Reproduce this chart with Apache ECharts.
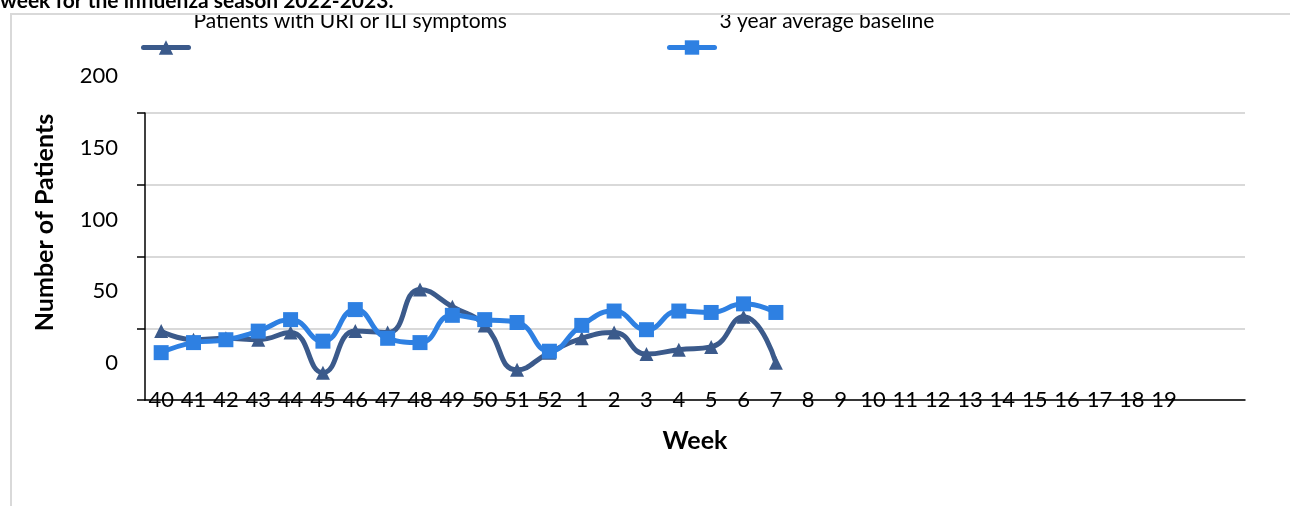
<!DOCTYPE html>
<html>
<head>
<meta charset="utf-8">
<script src="https://cdn.jsdelivr.net/npm/echarts@6/dist/echarts.min.js"></script>
<style>
  html, body { margin: 0; padding: 0; background: #fff; }
  #main_chart { width: 1290px; height: 506px; }
</style>
</head>
<body>
<div id="main_chart"></div>
<script>
// weeks of the season, two blank slots at the end like the original sheet
var weeks = ['40','41','42','43','44','45','46','47','48','49','50','51','52',
             '1','2','3','4','5','6','7','8','9','10','11','12','13','14','15',
             '16','17','18','19','',''];
var uriIli = [48, 42, 43, 42, 47, 19, 48, 47, 77, 65, 52, 21, 33,
              43, 47, 32, 35, 37, 58, 26];
var baseline = [33, 40, 42, 48, 56, 41, 63, 43, 40, 59, 56, 54, 34,
                52, 62, 49, 62, 61, 67, 61];
var yTicks = [0, 50, 100, 150, 200];

var FONT = 'Lato, "Open Sans", sans-serif';
var DARK = '#3b5a8b';
var LIGHT = '#2e80e2';

var myChart = echarts.init(document.getElementById('main_chart'));

// legend text sits above its icon, like the source
var legendText = {
  formatter: '{t|{name}}',
  textStyle: {
    rich: { t: { color: '#000', fontSize: 21, fontFamily: FONT, padding: [0, 0, 52, 0] } }
  }
};

var option = {
  backgroundColor: '#fff',
  animation: false,
  textStyle: { fontFamily: FONT },
  graphic: [
    { // cover that clips the legend text at the frame edge
      type: 'rect', z: 50, silent: true,
      shape: { x: 0, y: 0, width: 1290, height: 13 },
      style: { fill: '#fff' }
    },
    { // chart frame
      type: 'rect', z: 55, silent: true,
      shape: { x: 11, y: 14, width: 1300, height: 520 },
      style: { fill: 'none', stroke: '#d9d9d9', lineWidth: 2 }
    },
    { // caption, cut at page top
      type: 'text', z: 60, silent: true,
      x: 0, y: 12,
      style: {
        text: 'week for the influenza season 2022-2023.',
        fill: '#000', fontFamily: FONT, fontWeight: 'bold', fontSize: 21,
        verticalAlign: 'bottom'
      }
    }
  ],
  legend: [
    {
      data: ['Patients with URI or ILI symptoms'],
      left: 141, top: 11, padding: 0, z: 2,
      itemWidth: 45, itemHeight: 18,
      lineStyle: { width: 5, cap: 'round' },
      formatter: legendText.formatter,
      textStyle: legendText.textStyle
    },
    {
      data: ['3 year average baseline'],
      left: 667, top: 11, padding: 0, z: 2,
      itemWidth: 45, itemHeight: 18,
      lineStyle: { width: 5, cap: 'round' },
      formatter: legendText.formatter,
      textStyle: legendText.textStyle
    }
  ],
  grid: { left: 145, right: 45, top: 113, bottom: 106, containLabel: false },
  xAxis: {
    type: 'category',
    data: weeks,
    boundaryGap: true,
    name: 'Week',
    nameLocation: 'middle',
    nameGap: 28,
    nameTextStyle: { color: '#000', fontWeight: 'bold', fontSize: 25, fontFamily: FONT },
    axisLine: { lineStyle: { color: '#000', width: 1.5 } },
    axisTick: { show: false },
    axisLabel: { color: '#000', fontSize: 22, fontFamily: FONT, margin: -11, interval: 0 },
    splitLine: { show: false }
  },
  yAxis: {
    type: 'value',
    min: yTicks[0],
    max: yTicks[yTicks.length - 1],
    interval: 50,
    name: 'Number of Patients',
    nameLocation: 'middle',
    nameGap: 88,
    nameTextStyle: { color: '#000', fontWeight: 'bold', fontSize: 25, fontFamily: FONT, padding: [0, 0, 0, 68] },
    axisLine: { show: true, lineStyle: { color: '#000', width: 1.5 } },
    axisTick: { show: true, inside: false, length: 8, lineStyle: { color: '#000', width: 1.5 } },
    axisLabel: {
      margin: 27,
      formatter: '{v|{value}}',
      rich: { v: { color: '#000', fontSize: 22, fontFamily: FONT, padding: [0, 0, 74, 0] } }
    },
    splitLine: { show: true, lineStyle: { color: '#d9d9d9', width: 2 } }
  },
  series: [
    {
      name: 'Patients with URI or ILI symptoms',
      type: 'line',
      smooth: true,
      data: uriIli,
      symbol: 'triangle',
      symbolSize: 14,
      itemStyle: { color: DARK },
      lineStyle: { color: DARK, width: 5 },
      z: 2
    },
    {
      name: '3 year average baseline',
      type: 'line',
      smooth: true,
      data: baseline,
      symbol: 'rect',
      symbolSize: 15,
      itemStyle: { color: LIGHT },
      lineStyle: { color: LIGHT, width: 5 },
      z: 3
    }
  ]
};
myChart.setOption(option);
</script>
</body>
</html>
